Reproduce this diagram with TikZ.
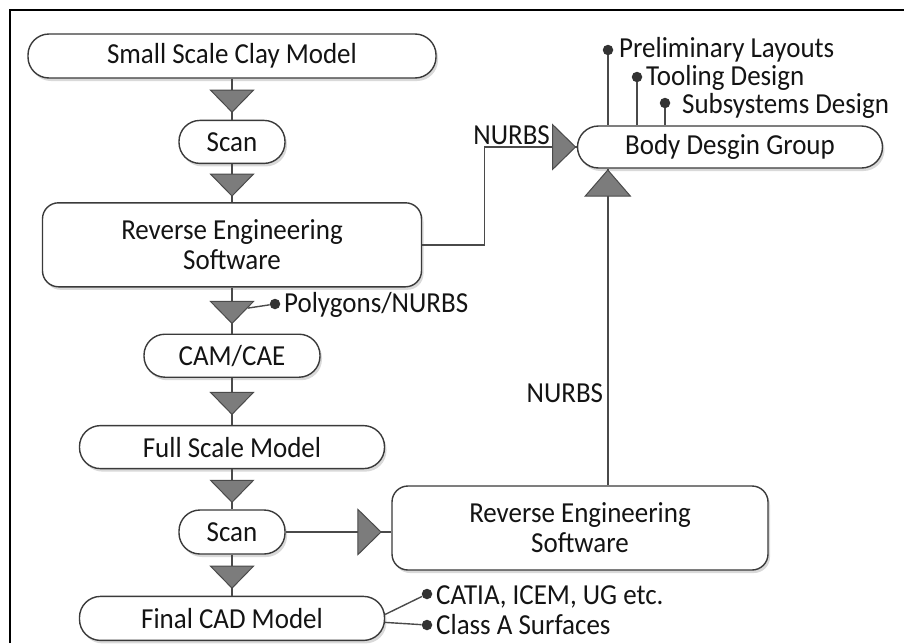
\documentclass[tikz,border=0pt]{standalone}
\usepackage{fontspec}
\newfontfamily\boxfont{Carlito}[FakeStretch=0.93]
\usetikzlibrary{positioning,shapes.geometric,shadows}
\definecolor{boxline}{HTML}{3A3A3A}
\definecolor{linecol}{HTML}{4A4A4A}
\definecolor{trifill}{HTML}{7C7C7C}
\definecolor{dotcol}{HTML}{333333}
\definecolor{txtcol}{HTML}{141414}
\newcommand\diagfont{\boxfont\fontsize{29}{30}\selectfont}
\begin{document}
\begin{tikzpicture}[x=1pt, y=-1pt,
	box/.style = {draw=boxline, line width=1.4pt, fill=white, rounded corners=21pt, inner sep=0pt,
		minimum height=43pt, font=\diagfont, text=txtcol, align=center,
		drop shadow={shadow xshift=2pt, shadow yshift=-3pt, opacity=0.3}},
	bigbox/.style = {box, rounded corners=16pt, minimum height=84pt},
	conn/.style = {draw=linecol, line width=1.4pt},
	tri/.style = {isosceles triangle, isosceles triangle stretches, inner sep=0pt, fill=trifill,
		draw=linecol, line width=1pt},
	tridown/.style = {tri, rotate=-90, minimum height=22pt, minimum width=43pt},
	triup/.style = {tri, rotate=90, minimum height=26pt, minimum width=45pt},
	triright/.style = {tri, minimum height=23pt, minimum width=45pt},
	endpt/.style = {circle, fill=dotcol, inner sep=0pt, minimum size=10.5pt},
	lbl/.style = {font=\diagfont, text=txtcol, inner sep=0pt}]
		\useasboundingbox (0,0) rectangle (904,643);
		\draw[line width=2pt] (10,643) -- (10,10) -- (904,10);

		\node[box, minimum width=408pt, minimum height=44pt] (clay) at (232,56) {Small Scale Clay Model};
		\node[box, minimum width=106pt] (scan1) [below=41pt of clay] {Scan};
		\node[bigbox, minimum width=379pt] (revsw1) [below=38pt of scan1] {Reverse Engineering\\Software};
		\node[box, minimum width=176pt] (camcae) [below=46pt of revsw1] {CAM/CAE};
		\node[box, minimum width=305pt] (fullmodel) [below=47pt of camcae] {Full Scale Model};
		\node[box, minimum width=106pt, minimum height=44pt] (scan2) [below=40pt of fullmodel] {Scan};
		\node[box, minimum width=305pt, minimum height=44pt] (cadmodel) [below=41pt of scan2] {Final CAD Model};
		\node[bigbox, minimum width=376pt] (revsw2) at (580,528) {Reverse Engineering\\Software};
		\node[box, minimum width=305pt, minimum height=42pt] (bodygroup) at (730,147) {Body Desgin Group};

		\node[endpt] (polydot) at (275,304) {};
		\node[endpt] (prelim) at (608,50) {};
		\node[endpt] (tooling) at (637,77) {};
		\node[endpt] (subsys) at (665,103) {};
		\node[endpt] (catia) at (427,594) {};
		\node[endpt] (classa) at (427,625) {};
		\node[lbl, anchor=base west] at ([xshift=9pt, yshift=-8pt]polydot) {Polygons/NURBS};
		\node[lbl, anchor=base west] at ([xshift=11pt, yshift=-7pt]prelim) {Preliminary Layouts};
		\node[lbl, anchor=base west] at ([xshift=9pt, yshift=-8pt]tooling) {Tooling Design};
		\node[lbl, anchor=base west] at ([xshift=17pt, yshift=-10pt]subsys) {Subsystems Design};
		\node[lbl, anchor=base west] at ([xshift=9pt, yshift=-10pt]catia) {CATIA, ICEM, UG etc.};
		\node[lbl, anchor=base west] at ([xshift=9pt, yshift=-9pt]classa) {Class A Surfaces};

		\draw[conn] (clay) -- node[tridown] {} (scan1);
		\draw[conn] (scan1) -- node[tridown] {} (revsw1);
		\draw[conn] (revsw1) -- node[tridown] (tripoly) {} (camcae);
		\draw[conn] (camcae) -- node[tridown] {} (fullmodel);
		\draw[conn] (fullmodel) -- node[tridown] {} (scan2);
		\draw[conn] (scan2) -- node[tridown] {} (cadmodel);
		\draw[conn] (tripoly) -- (polydot);

		\draw[conn] (revsw1.east) -- ++(62,0) |- (bodygroup.west) node[triright, anchor=apex] (trinurbs) {};
		\node[lbl, anchor=south east] at ([xshift=-2pt, yshift=2pt]trinurbs.west) {NURBS};
		\coordinate (bgin) at ([xshift=31pt]bodygroup.south west);
		\draw[conn] (bgin |- revsw2.north) -- node[lbl, left=4pt, pos=0.29] {NURBS} (bgin) node[triup, anchor=apex] {};
		\draw[conn] (scan2.east) -- (scan2.east -| revsw2.west) node[triright, anchor=apex, xshift=-9pt] {};

		\draw[conn] (prelim) -- (prelim |- bodygroup.north);
		\draw[conn] (tooling) -- (tooling |- bodygroup.north);
		\draw[conn] (subsys) -- (subsys |- bodygroup.north);
		\draw[conn] ([yshift=4pt]cadmodel.east) -- (catia);
		\draw[conn] ([yshift=-4pt]cadmodel.east) -- (classa);

	\end{tikzpicture}
\end{document}
